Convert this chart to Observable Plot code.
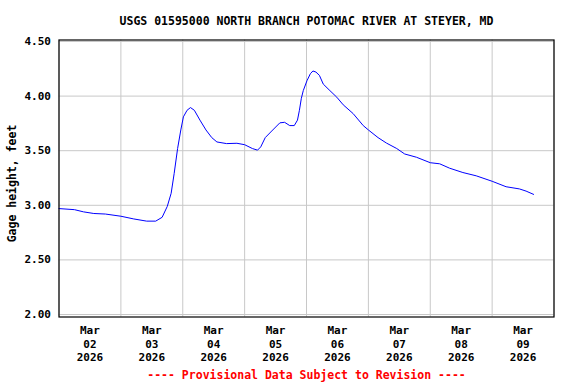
<!DOCTYPE html>
<html>
<head>
<meta charset="utf-8">
<script src="https://cdn.jsdelivr.net/npm/d3@7"></script>
<script src="https://cdn.jsdelivr.net/npm/@observablehq/plot@0.6"></script>
<style>
  html, body { margin: 0; padding: 0; background: white; }
</style>
</head>
<body>
<div id="chart"></div>
<script>
const title = "USGS 01595000 NORTH BRANCH POTOMAC RIVER AT STEYER, MD";
const yLabel = "Gage height, feet";
const caption = "---- Provisional Data Subject to Revision ----";

const times = ["2026-03-02T00:00","2026-03-02T06:00","2026-03-02T09:30","2026-03-02T13:30","2026-03-02T18:00",
"2026-03-03T00:00","2026-03-03T05:00","2026-03-03T10:00","2026-03-03T13:30","2026-03-03T16:00","2026-03-03T18:00",
"2026-03-03T19:30","2026-03-03T20:40","2026-03-03T22:00","2026-03-03T23:15","2026-03-04T00:15","2026-03-04T01:40",
"2026-03-04T03:00","2026-03-04T04:30","2026-03-04T06:40","2026-03-04T09:00","2026-03-04T11:15","2026-03-04T13:15",
"2026-03-04T17:00","2026-03-04T21:00","2026-03-05T00:00","2026-03-05T03:00","2026-03-05T05:00","2026-03-05T06:15",
"2026-03-05T08:00","2026-03-05T10:30","2026-03-05T13:40","2026-03-05T15:30","2026-03-05T17:30","2026-03-05T19:15",
"2026-03-05T20:30","2026-03-05T21:15","2026-03-05T22:00","2026-03-05T22:45","2026-03-06T00:10","2026-03-06T01:30",
"2026-03-06T02:30","2026-03-06T03:40","2026-03-06T05:00","2026-03-06T06:30","2026-03-06T09:05","2026-03-06T11:45",
"2026-03-06T14:15","2026-03-06T18:05","2026-03-06T22:00","2026-03-07T00:00","2026-03-07T03:45","2026-03-07T07:00",
"2026-03-07T11:00","2026-03-07T14:05","2026-03-07T18:40","2026-03-08T00:00","2026-03-08T03:40","2026-03-08T07:30",
"2026-03-08T12:40","2026-03-08T17:50","2026-03-09T00:00","2026-03-09T05:25","2026-03-09T10:35","2026-03-09T13:10",
"2026-03-09T16:05"];

const heights = [2.97,2.96,2.94,2.925,2.92,
2.90,2.875,2.855,2.855,2.89,2.99,
3.11,3.29,3.52,3.69,3.81,3.87,
3.895,3.87,3.78,3.69,3.62,3.58,
3.565,3.568,3.555,3.52,3.505,3.535,
3.62,3.68,3.755,3.76,3.73,3.73,
3.78,3.87,3.98,4.05,4.14,4.205,
4.23,4.22,4.19,4.11,4.05,3.99,
3.92,3.84,3.73,3.69,3.62,3.57,
3.52,3.47,3.44,3.39,3.38,3.34,
3.30,3.27,3.22,3.17,3.15,3.13,
3.10];

const yTicks = [2.0, 2.5, 3.0, 3.5, 4.0, 4.5];
const xStart = "2026-03-02T00:00";
const xEnd = "2026-03-10T00:00";

const parse = s => new Date(s + "Z");
const data = times.map((t, i) => ({time: parse(t), height: heights[i]}));
const x0 = parse(xStart), x1 = parse(xEnd);
const dayTicks = d3.utcDay.range(x0, d3.utcDay.offset(x1, 1));
const noonTicks = d3.utcDay.range(x0, x1).map(d => d3.utcHour.offset(d, 12));
const fmtTick = d => d3.utcFormat("%b")(d) + "\n" + d3.utcFormat("%d")(d) + "\n" + d3.utcFormat("%Y")(d);

const font = "'DejaVu Sans Mono', 'Liberation Mono', monospace";

const chart = Plot.plot({
  width: 576,
  height: 384,
  marginLeft: 58.5,
  marginRight: 22.5,
  marginTop: 39.5,
  marginBottom: 67.5,
  style: {fontFamily: font, fontSize: "11px", fontWeight: "bold", background: "white", color: "black"},
  x: {type: "utc", domain: [x0, x1]},
  y: {domain: [2, 4.5], insetTop: 1.5, insetBottom: 2.5},
  marks: [
    Plot.gridX(dayTicks, {stroke: "#c8c8c8", strokeOpacity: 1, strokeWidth: 1}),
    Plot.gridY(yTicks, {stroke: "#c8c8c8", strokeOpacity: 1, strokeWidth: 1}),
    Plot.line(data, {x: "time", y: "height", stroke: "#0000ff", strokeWidth: 1}),
    Plot.frame({stroke: "black", strokeWidth: 1.2}),
    Plot.axisY(yTicks, {tickSize: 0, tickPadding: 8, tickFormat: d3.format(".2f"), label: null, fontSize: 11, fill: "black"}),
    Plot.axisX(noonTicks, {tickSize: 0, tickPadding: 8, tickFormat: fmtTick, label: null, lineHeight: 1.21, fontSize: 11, fill: "black"}),
    Plot.text([title], {frameAnchor: "top", dy: -23, fontSize: 11.5, fill: "black"}),
    Plot.text([caption], {frameAnchor: "bottom", dy: 61.5, fontSize: 11.5, fill: "#ff0000"}),
    Plot.text([yLabel], {frameAnchor: "left", textAnchor: "middle", dx: -46.5, dy: 5, rotate: -90, fontSize: 11.5, fill: "black"})
  ]
});
document.getElementById("chart").appendChild(chart);
</script>
</body>
</html>
